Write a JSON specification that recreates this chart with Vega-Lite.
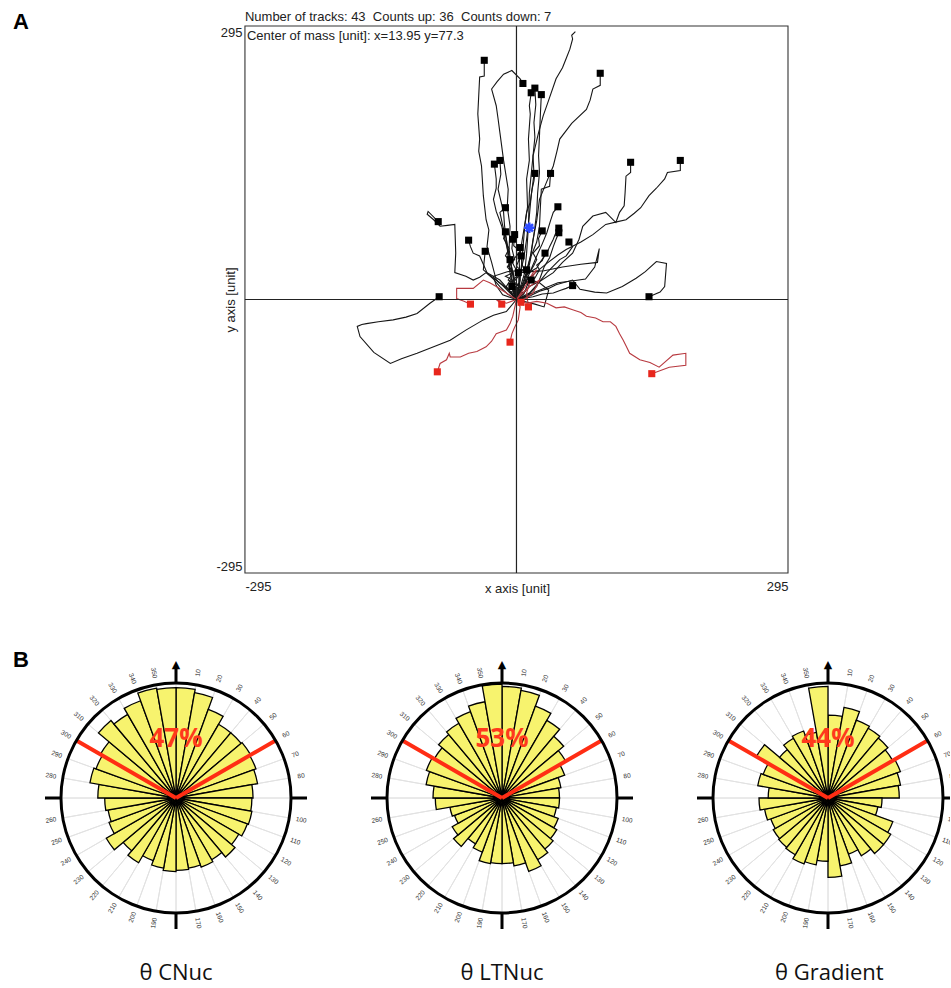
{
"$schema": "https://vega.github.io/schema/vega-lite/v6.json",
"background": "white",
"padding": {"left": 13, "top": 11, "right": 0, "bottom": 2},
"config": {"font": "Liberation Sans", "view": {"stroke": null}},
"datasets": {
"tracks": [
{"t":1,"i":0,"x":0,"y":0,"d":"up"},{"t":1,"i":1,"x":-8,"y":10,"d":"up"},{"t":1,"i":2,"x":-22,"y":21,"d":"up"},{"t":1,"i":3,"x":-27,"y":40,"d":"up"},{"t":1,"i":4,"x":-32,"y":57,"d":"up"},{"t":1,"i":5,"x":-30,"y":75,"d":"up"},{"t":1,"i":6,"x":-33,"y":86,"d":"up"},{"t":1,"i":7,"x":-36,"y":112,"d":"up"},{"t":1,"i":8,"x":-38,"y":144,"d":"up"},{"t":1,"i":9,"x":-41,"y":160,"d":"up"},{"t":1,"i":10,"x":-40,"y":173,"d":"up"},{"t":1,"i":11,"x":-42,"y":200,"d":"up"},{"t":1,"i":12,"x":-40,"y":240,"d":"up"},{"t":1,"i":13,"x":-35,"y":241,"d":"up"},{"t":1,"i":14,"x":-35,"y":258,"d":"up"},
{"t":2,"i":0,"x":0,"y":0,"d":"up"},{"t":2,"i":1,"x":-5,"y":15,"d":"up"},{"t":2,"i":2,"x":-5,"y":29,"d":"up"},{"t":2,"i":3,"x":-8,"y":55,"d":"up"},{"t":2,"i":4,"x":-7,"y":79,"d":"up"},{"t":2,"i":5,"x":-10,"y":100,"d":"up"},{"t":2,"i":6,"x":-9,"y":119,"d":"up"},{"t":2,"i":7,"x":-14,"y":150,"d":"up"},{"t":2,"i":8,"x":-18,"y":180,"d":"up"},{"t":2,"i":9,"x":-20,"y":195,"d":"up"},{"t":2,"i":10,"x":-22,"y":209,"d":"up"},{"t":2,"i":11,"x":-27,"y":227,"d":"up"},{"t":2,"i":12,"x":-21,"y":235,"d":"up"},{"t":2,"i":13,"x":-14,"y":243,"d":"up"},{"t":2,"i":14,"x":-5,"y":247,"d":"up"},{"t":2,"i":15,"x":4,"y":238,"d":"up"},{"t":2,"i":16,"x":7,"y":233,"d":"up"},
{"t":3,"i":0,"x":0,"y":0,"d":"up"},{"t":3,"i":1,"x":3,"y":15,"d":"up"},{"t":3,"i":2,"x":5,"y":32,"d":"up"},{"t":3,"i":3,"x":7,"y":55,"d":"up"},{"t":3,"i":4,"x":9,"y":79,"d":"up"},{"t":3,"i":5,"x":12,"y":100,"d":"up"},{"t":3,"i":6,"x":11,"y":130,"d":"up"},{"t":3,"i":7,"x":14,"y":150,"d":"up"},{"t":3,"i":8,"x":13,"y":173,"d":"up"},{"t":3,"i":9,"x":15,"y":200,"d":"up"},{"t":3,"i":10,"x":14,"y":209,"d":"up"},{"t":3,"i":11,"x":16,"y":223,"d":"up"},
{"t":4,"i":0,"x":0,"y":0,"d":"up"},{"t":4,"i":1,"x":4,"y":28,"d":"up"},{"t":4,"i":2,"x":8,"y":45,"d":"up"},{"t":4,"i":3,"x":11,"y":65,"d":"up"},{"t":4,"i":4,"x":14,"y":90,"d":"up"},{"t":4,"i":5,"x":16,"y":112,"d":"up"},{"t":4,"i":6,"x":19,"y":135,"d":"up"},{"t":4,"i":7,"x":18,"y":155,"d":"up"},{"t":4,"i":8,"x":20,"y":175,"d":"up"},{"t":4,"i":9,"x":19,"y":191,"d":"up"},{"t":4,"i":10,"x":21,"y":210,"d":"up"},{"t":4,"i":11,"x":20,"y":228,"d":"up"},
{"t":5,"i":0,"x":0,"y":0,"d":"up"},{"t":5,"i":1,"x":9,"y":21,"d":"up"},{"t":5,"i":2,"x":12,"y":35,"d":"up"},{"t":5,"i":3,"x":16,"y":50,"d":"up"},{"t":5,"i":4,"x":19,"y":70,"d":"up"},{"t":5,"i":5,"x":22,"y":94,"d":"up"},{"t":5,"i":6,"x":23,"y":115,"d":"up"},{"t":5,"i":7,"x":25,"y":137,"d":"up"},{"t":5,"i":8,"x":24,"y":155,"d":"up"},{"t":5,"i":9,"x":25,"y":177,"d":"up"},{"t":5,"i":10,"x":26,"y":200,"d":"up"},{"t":5,"i":11,"x":27,"y":221,"d":"up"},
{"t":6,"i":0,"x":0,"y":0,"d":"up"},{"t":6,"i":1,"x":11,"y":29,"d":"up"},{"t":6,"i":2,"x":15,"y":45,"d":"up"},{"t":6,"i":3,"x":18,"y":65,"d":"up"},{"t":6,"i":4,"x":22,"y":85,"d":"up"},{"t":6,"i":5,"x":25,"y":108,"d":"up"},{"t":6,"i":6,"x":32,"y":125,"d":"up"},{"t":6,"i":7,"x":40,"y":144,"d":"up"},{"t":6,"i":8,"x":44,"y":160,"d":"up"},{"t":6,"i":9,"x":47,"y":173,"d":"up"},{"t":6,"i":10,"x":60,"y":190,"d":"up"},{"t":6,"i":11,"x":76,"y":205,"d":"up"},{"t":6,"i":12,"x":80,"y":215,"d":"up"},{"t":6,"i":13,"x":83,"y":227,"d":"up"},{"t":6,"i":14,"x":91,"y":231,"d":"up"},{"t":6,"i":15,"x":91,"y":244,"d":"up"},
{"t":7,"i":0,"x":0,"y":0,"d":"up"},{"t":7,"i":1,"x":9,"y":29,"d":"up"},{"t":7,"i":2,"x":11,"y":50,"d":"up"},{"t":7,"i":3,"x":13,"y":79,"d":"up"},{"t":7,"i":4,"x":14,"y":115,"d":"up"},{"t":7,"i":5,"x":16,"y":135,"d":"up"},{"t":7,"i":6,"x":18,"y":155,"d":"up"},{"t":7,"i":7,"x":24,"y":180,"d":"up"},{"t":7,"i":8,"x":29,"y":198,"d":"up"},{"t":7,"i":9,"x":35,"y":215,"d":"up"},{"t":7,"i":10,"x":43,"y":238,"d":"up"},{"t":7,"i":11,"x":50,"y":250,"d":"up"},{"t":7,"i":12,"x":54,"y":260,"d":"up"},{"t":7,"i":13,"x":58,"y":270,"d":"up"},{"t":7,"i":14,"x":61,"y":281,"d":"up"},{"t":7,"i":15,"x":60,"y":285,"d":"up"},{"t":7,"i":16,"x":64,"y":289,"d":"up"},
{"t":8,"i":0,"x":0,"y":0,"d":"up"},{"t":8,"i":1,"x":14,"y":14,"d":"up"},{"t":8,"i":2,"x":26,"y":20,"d":"up"},{"t":8,"i":3,"x":40,"y":29,"d":"up"},{"t":8,"i":4,"x":50,"y":40,"d":"up"},{"t":8,"i":5,"x":61,"y":50,"d":"up"},{"t":8,"i":6,"x":68,"y":65,"d":"up"},{"t":8,"i":7,"x":72,"y":79,"d":"up"},{"t":8,"i":8,"x":83,"y":90,"d":"up"},{"t":8,"i":9,"x":97,"y":94,"d":"up"},{"t":8,"i":10,"x":108,"y":83,"d":"up"},{"t":8,"i":11,"x":112,"y":94,"d":"up"},{"t":8,"i":12,"x":117,"y":101,"d":"up"},{"t":8,"i":13,"x":118,"y":115,"d":"up"},{"t":8,"i":14,"x":119,"y":133,"d":"up"},{"t":8,"i":15,"x":124,"y":137,"d":"up"},{"t":8,"i":16,"x":124,"y":148,"d":"up"},
{"t":9,"i":0,"x":0,"y":0,"d":"up"},{"t":9,"i":1,"x":11,"y":21,"d":"up"},{"t":9,"i":2,"x":22,"y":30,"d":"up"},{"t":9,"i":3,"x":33,"y":39,"d":"up"},{"t":9,"i":4,"x":45,"y":48,"d":"up"},{"t":9,"i":5,"x":54,"y":54,"d":"up"},{"t":9,"i":6,"x":70,"y":62,"d":"up"},{"t":9,"i":7,"x":83,"y":70,"d":"up"},{"t":9,"i":8,"x":97,"y":81,"d":"up"},{"t":9,"i":9,"x":110,"y":84,"d":"up"},{"t":9,"i":10,"x":119,"y":86,"d":"up"},{"t":9,"i":11,"x":128,"y":93,"d":"up"},{"t":9,"i":12,"x":135,"y":99,"d":"up"},{"t":9,"i":13,"x":144,"y":112,"d":"up"},{"t":9,"i":14,"x":152,"y":120,"d":"up"},{"t":9,"i":15,"x":161,"y":130,"d":"up"},{"t":9,"i":16,"x":164,"y":137,"d":"up"},{"t":9,"i":17,"x":178,"y":139,"d":"up"},{"t":9,"i":18,"x":178,"y":150,"d":"up"},
{"t":10,"i":0,"x":0,"y":0,"d":"up"},{"t":10,"i":1,"x":15,"y":4,"d":"up"},{"t":10,"i":2,"x":25,"y":9,"d":"up"},{"t":10,"i":3,"x":35,"y":12,"d":"up"},{"t":10,"i":4,"x":43,"y":16,"d":"up"},{"t":10,"i":5,"x":61,"y":21,"d":"up"},{"t":10,"i":6,"x":69,"y":11,"d":"up"},{"t":10,"i":7,"x":85,"y":8,"d":"up"},{"t":10,"i":8,"x":98,"y":7,"d":"up"},{"t":10,"i":9,"x":115,"y":14,"d":"up"},{"t":10,"i":10,"x":130,"y":23,"d":"up"},{"t":10,"i":11,"x":140,"y":30,"d":"up"},{"t":10,"i":12,"x":152,"y":41,"d":"up"},{"t":10,"i":13,"x":163,"y":39,"d":"up"},{"t":10,"i":14,"x":161,"y":14,"d":"up"},{"t":10,"i":15,"x":156,"y":8,"d":"up"},{"t":10,"i":16,"x":144,"y":3,"d":"up"},
{"t":11,"i":0,"x":0,"y":0,"d":"up"},{"t":11,"i":1,"x":-11,"y":-13,"d":"up"},{"t":11,"i":2,"x":-25,"y":-17,"d":"up"},{"t":11,"i":3,"x":-36,"y":-22,"d":"up"},{"t":11,"i":4,"x":-55,"y":-33,"d":"up"},{"t":11,"i":5,"x":-72,"y":-44,"d":"up"},{"t":11,"i":6,"x":-90,"y":-51,"d":"up"},{"t":11,"i":7,"x":-108,"y":-58,"d":"up"},{"t":11,"i":8,"x":-125,"y":-64,"d":"up"},{"t":11,"i":9,"x":-137,"y":-69,"d":"up"},{"t":11,"i":10,"x":-155,"y":-57,"d":"up"},{"t":11,"i":11,"x":-170,"y":-40,"d":"up"},{"t":11,"i":12,"x":-173,"y":-29,"d":"up"},{"t":11,"i":13,"x":-168,"y":-27,"d":"up"},{"t":11,"i":14,"x":-163,"y":-26,"d":"up"},{"t":11,"i":15,"x":-150,"y":-24,"d":"up"},{"t":11,"i":16,"x":-134,"y":-22,"d":"up"},{"t":11,"i":17,"x":-120,"y":-19,"d":"up"},{"t":11,"i":18,"x":-108,"y":-15,"d":"up"},{"t":11,"i":19,"x":-94,"y":-4,"d":"up"},{"t":11,"i":20,"x":-84,"y":3,"d":"up"},
{"t":12,"i":0,"x":0,"y":0,"d":"up"},{"t":12,"i":1,"x":-10,"y":6,"d":"up"},{"t":12,"i":2,"x":-18,"y":14,"d":"up"},{"t":12,"i":3,"x":-25,"y":22,"d":"up"},{"t":12,"i":4,"x":-33,"y":29,"d":"up"},{"t":12,"i":5,"x":-40,"y":24,"d":"up"},{"t":12,"i":6,"x":-47,"y":21,"d":"up"},{"t":12,"i":7,"x":-55,"y":25,"d":"up"},{"t":12,"i":8,"x":-67,"y":29,"d":"up"},{"t":12,"i":9,"x":-66,"y":50,"d":"up"},{"t":12,"i":10,"x":-67,"y":81,"d":"up"},{"t":12,"i":11,"x":-75,"y":80,"d":"up"},{"t":12,"i":12,"x":-83,"y":79,"d":"up"},{"t":12,"i":13,"x":-90,"y":86,"d":"up"},{"t":12,"i":14,"x":-97,"y":92,"d":"up"},{"t":12,"i":15,"x":-96,"y":95,"d":"up"},{"t":12,"i":16,"x":-85,"y":84,"d":"up"},
{"t":13,"i":0,"x":0,"y":0,"d":"up"},{"t":13,"i":1,"x":-10,"y":12,"d":"up"},{"t":13,"i":2,"x":-18,"y":21,"d":"up"},{"t":13,"i":3,"x":-32,"y":29,"d":"up"},{"t":13,"i":4,"x":-36,"y":38,"d":"up"},{"t":13,"i":5,"x":-40,"y":47,"d":"up"},{"t":13,"i":6,"x":-47,"y":50,"d":"up"},{"t":13,"i":7,"x":-50,"y":57,"d":"up"},{"t":13,"i":8,"x":-52,"y":64,"d":"up"},
{"t":14,"i":0,"x":0,"y":0,"d":"up"},{"t":14,"i":1,"x":-7,"y":7,"d":"up"},{"t":14,"i":2,"x":-15,"y":15,"d":"up"},{"t":14,"i":3,"x":-22,"y":21,"d":"up"},{"t":14,"i":4,"x":-30,"y":27,"d":"up"},{"t":14,"i":5,"x":-36,"y":32,"d":"up"},{"t":14,"i":6,"x":-35,"y":42,"d":"up"},{"t":14,"i":7,"x":-34,"y":52,"d":"up"},
{"t":15,"i":0,"x":0,"y":0,"d":"up"},{"t":15,"i":1,"x":-4,"y":29,"d":"up"},{"t":15,"i":2,"x":-10,"y":55,"d":"up"},{"t":15,"i":3,"x":-16,"y":79,"d":"up"},{"t":15,"i":4,"x":-22,"y":95,"d":"up"},{"t":15,"i":5,"x":-25,"y":108,"d":"up"},{"t":15,"i":6,"x":-22,"y":120,"d":"up"},{"t":15,"i":7,"x":-22,"y":130,"d":"up"},{"t":15,"i":8,"x":-24,"y":146,"d":"up"},
{"t":16,"i":0,"x":0,"y":0,"d":"up"},{"t":16,"i":1,"x":-7,"y":29,"d":"up"},{"t":16,"i":2,"x":-9,"y":45,"d":"up"},{"t":16,"i":3,"x":-11,"y":65,"d":"up"},{"t":16,"i":4,"x":-13,"y":80,"d":"up"},{"t":16,"i":5,"x":-14,"y":94,"d":"up"},{"t":16,"i":6,"x":-20,"y":119,"d":"up"},{"t":16,"i":7,"x":-17,"y":135,"d":"up"},{"t":16,"i":8,"x":-18,"y":150,"d":"up"},
{"t":17,"i":0,"x":0,"y":0,"d":"up"},{"t":17,"i":1,"x":4,"y":21,"d":"up"},{"t":17,"i":2,"x":3,"y":40,"d":"up"},{"t":17,"i":3,"x":5,"y":57,"d":"up"},{"t":17,"i":4,"x":8,"y":75,"d":"up"},{"t":17,"i":5,"x":11,"y":94,"d":"up"},{"t":17,"i":6,"x":15,"y":105,"d":"up"},{"t":17,"i":7,"x":17,"y":119,"d":"up"},{"t":17,"i":8,"x":19,"y":128,"d":"up"},{"t":17,"i":9,"x":20,"y":136,"d":"up"},
{"t":18,"i":0,"x":0,"y":0,"d":"up"},{"t":18,"i":1,"x":7,"y":11,"d":"up"},{"t":18,"i":2,"x":12,"y":28,"d":"up"},{"t":18,"i":3,"x":16,"y":47,"d":"up"},{"t":18,"i":4,"x":22,"y":62,"d":"up"},{"t":18,"i":5,"x":25,"y":79,"d":"up"},{"t":18,"i":6,"x":26,"y":100,"d":"up"},{"t":18,"i":7,"x":27,"y":119,"d":"up"},{"t":18,"i":8,"x":36,"y":122,"d":"up"},{"t":18,"i":9,"x":37,"y":136,"d":"up"},
{"t":19,"i":0,"x":0,"y":0,"d":"up"},{"t":19,"i":1,"x":-4,"y":29,"d":"up"},{"t":19,"i":2,"x":-8,"y":48,"d":"up"},{"t":19,"i":3,"x":-11,"y":65,"d":"up"},{"t":19,"i":4,"x":-15,"y":80,"d":"up"},{"t":19,"i":5,"x":-18,"y":94,"d":"up"},{"t":19,"i":6,"x":-12,"y":99,"d":"up"},
{"t":20,"i":0,"x":0,"y":0,"d":"up"},{"t":20,"i":1,"x":11,"y":21,"d":"up"},{"t":20,"i":2,"x":17,"y":35,"d":"up"},{"t":20,"i":3,"x":22,"y":47,"d":"up"},{"t":20,"i":4,"x":28,"y":60,"d":"up"},{"t":20,"i":5,"x":33,"y":72,"d":"up"},{"t":20,"i":6,"x":37,"y":85,"d":"up"},{"t":20,"i":7,"x":40,"y":94,"d":"up"},{"t":20,"i":8,"x":45,"y":100,"d":"up"},
{"t":21,"i":0,"x":0,"y":0,"d":"up"},{"t":21,"i":1,"x":14,"y":7,"d":"up"},{"t":21,"i":2,"x":24,"y":18,"d":"up"},{"t":21,"i":3,"x":33,"y":29,"d":"up"},{"t":21,"i":4,"x":40,"y":36,"d":"up"},{"t":21,"i":5,"x":47,"y":43,"d":"up"},{"t":21,"i":6,"x":54,"y":47,"d":"up"},{"t":21,"i":7,"x":61,"y":57,"d":"up"},{"t":21,"i":8,"x":57,"y":62,"d":"up"},
{"t":22,"i":0,"x":0,"y":0,"d":"up"},{"t":22,"i":1,"x":18,"y":3,"d":"up"},{"t":22,"i":2,"x":28,"y":6,"d":"up"},{"t":22,"i":3,"x":40,"y":7,"d":"up"},{"t":22,"i":4,"x":48,"y":10,"d":"up"},{"t":22,"i":5,"x":54,"y":12,"d":"up"},{"t":22,"i":6,"x":61,"y":15,"d":"up"},
{"t":23,"i":0,"x":0,"y":0,"d":"up"},{"t":23,"i":1,"x":-6,"y":8,"d":"up"},{"t":23,"i":2,"x":3,"y":14,"d":"up"},{"t":23,"i":3,"x":-9,"y":21,"d":"up"},{"t":23,"i":4,"x":-4,"y":28,"d":"up"},{"t":23,"i":5,"x":-10,"y":35,"d":"up"},{"t":23,"i":6,"x":-6,"y":41,"d":"up"},{"t":23,"i":7,"x":-12,"y":47,"d":"up"},{"t":23,"i":8,"x":-8,"y":55,"d":"up"},{"t":23,"i":9,"x":-14,"y":66,"d":"up"},{"t":23,"i":10,"x":-12,"y":73,"d":"up"},
{"t":24,"i":0,"x":0,"y":0,"d":"up"},{"t":24,"i":1,"x":5,"y":9,"d":"up"},{"t":24,"i":2,"x":-4,"y":15,"d":"up"},{"t":24,"i":3,"x":-4,"y":21,"d":"up"},{"t":24,"i":4,"x":3,"y":27,"d":"up"},{"t":24,"i":5,"x":-2,"y":35,"d":"up"},{"t":24,"i":6,"x":-5,"y":41,"d":"up"},{"t":24,"i":7,"x":0,"y":47,"d":"up"},{"t":24,"i":8,"x":4,"y":52,"d":"up"},{"t":24,"i":9,"x":-3,"y":58,"d":"up"},{"t":24,"i":10,"x":-2,"y":70,"d":"up"},
{"t":25,"i":0,"x":0,"y":0,"d":"up"},{"t":25,"i":1,"x":-4,"y":8,"d":"up"},{"t":25,"i":2,"x":11,"y":18,"d":"up"},{"t":25,"i":3,"x":8,"y":24,"d":"up"},{"t":25,"i":4,"x":15,"y":30,"d":"up"},{"t":25,"i":5,"x":19,"y":37,"d":"up"},{"t":25,"i":6,"x":22,"y":43,"d":"up"},{"t":25,"i":7,"x":18,"y":50,"d":"up"},{"t":25,"i":8,"x":25,"y":58,"d":"up"},{"t":25,"i":9,"x":24,"y":66,"d":"up"},{"t":25,"i":10,"x":28,"y":74,"d":"up"},
{"t":26,"i":0,"x":0,"y":0,"d":"up"},{"t":26,"i":1,"x":8,"y":6,"d":"up"},{"t":26,"i":2,"x":14,"y":21,"d":"up"},{"t":26,"i":3,"x":10,"y":27,"d":"up"},{"t":26,"i":4,"x":22,"y":34,"d":"up"},{"t":26,"i":5,"x":27,"y":42,"d":"up"},{"t":26,"i":6,"x":33,"y":50,"d":"up"},{"t":26,"i":7,"x":36,"y":57,"d":"up"},{"t":26,"i":8,"x":40,"y":65,"d":"up"},{"t":26,"i":9,"x":42,"y":70,"d":"up"},{"t":26,"i":10,"x":46,"y":77,"d":"up"},
{"t":27,"i":0,"x":0,"y":0,"d":"up"},{"t":27,"i":1,"x":12,"y":4,"d":"up"},{"t":27,"i":2,"x":22,"y":14,"d":"up"},{"t":27,"i":3,"x":26,"y":24,"d":"up"},{"t":27,"i":4,"x":30,"y":35,"d":"up"},{"t":27,"i":5,"x":36,"y":45,"d":"up"},{"t":27,"i":6,"x":40,"y":57,"d":"up"},{"t":27,"i":7,"x":43,"y":65,"d":"up"},{"t":27,"i":8,"x":46,"y":72,"d":"up"},
{"t":28,"i":0,"x":0,"y":0,"d":"up"},{"t":28,"i":1,"x":-7,"y":18,"d":"up"},{"t":28,"i":2,"x":-2,"y":22,"d":"up"},{"t":28,"i":3,"x":-4,"y":30,"d":"up"},{"t":28,"i":4,"x":-9,"y":36,"d":"up"},{"t":28,"i":5,"x":-2,"y":43,"d":"up"},{"t":28,"i":6,"x":-5,"y":55,"d":"up"},{"t":28,"i":7,"x":-4,"y":65,"d":"up"},
{"t":29,"i":0,"x":0,"y":0,"d":"up"},{"t":29,"i":1,"x":5,"y":14,"d":"up"},{"t":29,"i":2,"x":-3,"y":19,"d":"up"},{"t":29,"i":3,"x":2,"y":25,"d":"up"},{"t":29,"i":4,"x":6,"y":30,"d":"up"},{"t":29,"i":5,"x":0,"y":36,"d":"up"},{"t":29,"i":6,"x":4,"y":46,"d":"up"},{"t":29,"i":7,"x":4,"y":56,"d":"up"},
{"t":30,"i":0,"x":0,"y":0,"d":"up"},{"t":30,"i":1,"x":6,"y":5,"d":"up"},{"t":30,"i":2,"x":14,"y":14,"d":"up"},{"t":30,"i":3,"x":10,"y":19,"d":"up"},{"t":30,"i":4,"x":20,"y":23,"d":"up"},{"t":30,"i":5,"x":25,"y":32,"d":"up"},{"t":30,"i":6,"x":22,"y":37,"d":"up"},{"t":30,"i":7,"x":28,"y":42,"d":"up"},{"t":30,"i":8,"x":31,"y":50,"d":"up"},
{"t":31,"i":0,"x":0,"y":0,"d":"up"},{"t":31,"i":1,"x":-5,"y":6,"d":"up"},{"t":31,"i":2,"x":-11,"y":14,"d":"up"},{"t":31,"i":3,"x":-6,"y":22,"d":"up"},{"t":31,"i":4,"x":-12,"y":25,"d":"up"},{"t":31,"i":5,"x":-4,"y":29,"d":"up"},{"t":31,"i":6,"x":-8,"y":36,"d":"up"},{"t":31,"i":7,"x":-7,"y":43,"d":"up"},
{"t":32,"i":0,"x":0,"y":0,"d":"up"},{"t":32,"i":1,"x":7,"y":7,"d":"up"},{"t":32,"i":2,"x":-3,"y":12,"d":"up"},{"t":32,"i":3,"x":3,"y":18,"d":"up"},{"t":32,"i":4,"x":2,"y":29,"d":"up"},{"t":32,"i":5,"x":8,"y":33,"d":"up"},{"t":32,"i":6,"x":6,"y":38,"d":"up"},{"t":32,"i":7,"x":5,"y":47,"d":"up"},
{"t":33,"i":0,"x":0,"y":0,"d":"up"},{"t":33,"i":1,"x":25,"y":10,"d":"up"},{"t":33,"i":2,"x":45,"y":18,"d":"up"},{"t":33,"i":3,"x":60,"y":20,"d":"up"},{"t":33,"i":4,"x":75,"y":22,"d":"up"},{"t":33,"i":5,"x":85,"y":35,"d":"up"},{"t":33,"i":6,"x":90,"y":55,"d":"up"},{"t":33,"i":7,"x":88,"y":40,"d":"up"},{"t":33,"i":8,"x":70,"y":38,"d":"up"},{"t":33,"i":9,"x":50,"y":35,"d":"up"},{"t":33,"i":10,"x":30,"y":31,"d":"up"},{"t":33,"i":11,"x":2,"y":29,"d":"up"},
{"t":34,"i":0,"x":0,"y":0,"d":"up"},{"t":34,"i":1,"x":-15,"y":5,"d":"up"},{"t":34,"i":2,"x":-22,"y":15,"d":"up"},{"t":34,"i":3,"x":-25,"y":25,"d":"up"},{"t":34,"i":4,"x":-10,"y":30,"d":"up"},{"t":34,"i":5,"x":11,"y":32,"d":"up"},
{"t":35,"i":0,"x":0,"y":0,"d":"up"},{"t":35,"i":1,"x":8,"y":-6,"d":"up"},{"t":35,"i":2,"x":3,"y":2,"d":"up"},{"t":35,"i":3,"x":-2,"y":6,"d":"up"},{"t":35,"i":4,"x":-5,"y":14,"d":"up"},
{"t":36,"i":0,"x":0,"y":0,"d":"up"},{"t":36,"i":1,"x":20,"y":-5,"d":"up"},{"t":36,"i":2,"x":30,"y":-8,"d":"up"},{"t":36,"i":3,"x":35,"y":10,"d":"up"},{"t":36,"i":4,"x":25,"y":18,"d":"up"},{"t":36,"i":5,"x":16,"y":21,"d":"up"},
{"t":37,"i":0,"x":0,"y":0,"d":"down"},{"t":37,"i":1,"x":11,"y":-4,"d":"down"},{"t":37,"i":2,"x":22,"y":-2,"d":"down"},{"t":37,"i":3,"x":33,"y":-4,"d":"down"},{"t":37,"i":4,"x":43,"y":-9,"d":"down"},{"t":37,"i":5,"x":52,"y":-8,"d":"down"},{"t":37,"i":6,"x":61,"y":-11,"d":"down"},{"t":37,"i":7,"x":70,"y":-14,"d":"down"},{"t":37,"i":8,"x":76,"y":-18,"d":"down"},{"t":37,"i":9,"x":86,"y":-20,"d":"down"},{"t":37,"i":10,"x":94,"y":-24,"d":"down"},{"t":37,"i":11,"x":102,"y":-24,"d":"down"},{"t":37,"i":12,"x":108,"y":-29,"d":"down"},{"t":37,"i":13,"x":112,"y":-37,"d":"down"},{"t":37,"i":14,"x":116,"y":-44,"d":"down"},{"t":37,"i":15,"x":119,"y":-50,"d":"down"},{"t":37,"i":16,"x":123,"y":-58,"d":"down"},{"t":37,"i":17,"x":134,"y":-65,"d":"down"},{"t":37,"i":18,"x":145,"y":-68,"d":"down"},{"t":37,"i":19,"x":155,"y":-73,"d":"down"},{"t":37,"i":20,"x":170,"y":-60,"d":"down"},{"t":37,"i":21,"x":184,"y":-58,"d":"down"},{"t":37,"i":22,"x":184,"y":-71,"d":"down"},{"t":37,"i":23,"x":166,"y":-73,"d":"down"},{"t":37,"i":24,"x":147,"y":-80,"d":"down"},
{"t":38,"i":0,"x":0,"y":0,"d":"down"},{"t":38,"i":1,"x":-4,"y":-18,"d":"down"},{"t":38,"i":2,"x":-7,"y":-26,"d":"down"},{"t":38,"i":3,"x":-11,"y":-33,"d":"down"},{"t":38,"i":4,"x":-22,"y":-37,"d":"down"},{"t":38,"i":5,"x":-27,"y":-45,"d":"down"},{"t":38,"i":6,"x":-33,"y":-51,"d":"down"},{"t":38,"i":7,"x":-43,"y":-56,"d":"down"},{"t":38,"i":8,"x":-52,"y":-58,"d":"down"},{"t":38,"i":9,"x":-61,"y":-62,"d":"down"},{"t":38,"i":10,"x":-72,"y":-62,"d":"down"},{"t":38,"i":11,"x":-73,"y":-58,"d":"down"},{"t":38,"i":12,"x":-76,"y":-65,"d":"down"},{"t":38,"i":13,"x":-83,"y":-69,"d":"down"},{"t":38,"i":14,"x":-86,"y":-78,"d":"down"},
{"t":39,"i":0,"x":0,"y":0,"d":"down"},{"t":39,"i":1,"x":4,"y":-8,"d":"down"},{"t":39,"i":2,"x":2,"y":-22,"d":"down"},{"t":39,"i":3,"x":-2,"y":-30,"d":"down"},{"t":39,"i":4,"x":-5,"y":-37,"d":"down"},{"t":39,"i":5,"x":-7,"y":-46,"d":"down"},
{"t":40,"i":0,"x":0,"y":0,"d":"down"},{"t":40,"i":1,"x":-11,"y":7,"d":"down"},{"t":40,"i":2,"x":-22,"y":14,"d":"down"},{"t":40,"i":3,"x":-29,"y":18,"d":"down"},{"t":40,"i":4,"x":-36,"y":21,"d":"down"},{"t":40,"i":5,"x":-47,"y":12,"d":"down"},{"t":40,"i":6,"x":-56,"y":12,"d":"down"},{"t":40,"i":7,"x":-65,"y":12,"d":"down"},{"t":40,"i":8,"x":-65,"y":1,"d":"down"},{"t":40,"i":9,"x":-57,"y":-2,"d":"down"},{"t":40,"i":10,"x":-50,"y":-5,"d":"down"},
{"t":41,"i":0,"x":0,"y":0,"d":"down"},{"t":41,"i":1,"x":-11,"y":-4,"d":"down"},{"t":41,"i":2,"x":-22,"y":0,"d":"down"},{"t":41,"i":3,"x":-16,"y":-5,"d":"down"},
{"t":42,"i":0,"x":0,"y":0,"d":"down"},{"t":42,"i":1,"x":10,"y":15,"d":"down"},{"t":42,"i":2,"x":18,"y":29,"d":"down"},{"t":42,"i":3,"x":22,"y":32,"d":"down"},{"t":42,"i":4,"x":15,"y":20,"d":"down"},{"t":42,"i":5,"x":11,"y":7,"d":"down"},{"t":42,"i":6,"x":13,"y":-8,"d":"down"},
{"t":43,"i":0,"x":0,"y":0,"d":"down"},{"t":43,"i":1,"x":14,"y":14,"d":"down"},{"t":43,"i":2,"x":25,"y":21,"d":"down"},{"t":43,"i":3,"x":18,"y":7,"d":"down"},{"t":43,"i":4,"x":5,"y":-3,"d":"down"}
],
"ends": [
{"x":-35,"y":258,"d":"up"},{"x":7,"y":233,"d":"up"},{"x":16,"y":223,"d":"up"},{"x":20,"y":228,"d":"up"},{"x":27,"y":221,"d":"up"},{"x":91,"y":244,"d":"up"},{"x":124,"y":148,"d":"up"},{"x":178,"y":150,"d":"up"},{"x":144,"y":3,"d":"up"},{"x":-84,"y":3,"d":"up"},{"x":-85,"y":84,"d":"up"},{"x":-52,"y":64,"d":"up"},{"x":-34,"y":52,"d":"up"},{"x":-24,"y":146,"d":"up"},{"x":-18,"y":150,"d":"up"},{"x":20,"y":136,"d":"up"},{"x":37,"y":136,"d":"up"},{"x":-12,"y":99,"d":"up"},{"x":45,"y":100,"d":"up"},{"x":57,"y":62,"d":"up"},{"x":61,"y":15,"d":"up"},{"x":-12,"y":73,"d":"up"},{"x":-2,"y":70,"d":"up"},{"x":28,"y":74,"d":"up"},{"x":46,"y":77,"d":"up"},{"x":46,"y":72,"d":"up"},{"x":-4,"y":65,"d":"up"},{"x":4,"y":56,"d":"up"},{"x":31,"y":50,"d":"up"},{"x":-7,"y":43,"d":"up"},{"x":5,"y":47,"d":"up"},{"x":2,"y":29,"d":"up"},{"x":11,"y":32,"d":"up"},{"x":-5,"y":14,"d":"up"},{"x":16,"y":21,"d":"up"},
{"x":147,"y":-80,"d":"down"},{"x":-86,"y":-78,"d":"down"},{"x":-7,"y":-46,"d":"down"},{"x":-50,"y":-5,"d":"down"},{"x":-16,"y":-5,"d":"down"},{"x":13,"y":-8,"d":"down"},{"x":5,"y":-3,"d":"down"}
],
"com": [{"x":13.95,"y":77.3}],
"zero": [{"v":0}],
"panels": [{"k":"A"},{"k":"B"}],
"notes": [{"k":"top","txt":"Number of tracks: 43\u00a0 Counts up: 36\u00a0 Counts down: 7"},{"k":"com","txt":"Center of mass [unit]: x=13.95 y=77.3"}],
"roses": [
{"p":"CNuc","s":0,"e":10,"r":0.96},{"p":"CNuc","s":10,"e":20,"r":0.93},{"p":"CNuc","s":20,"e":30,"r":0.82},{"p":"CNuc","s":30,"e":40,"r":0.74},{"p":"CNuc","s":40,"e":50,"r":0.74},{"p":"CNuc","s":50,"e":60,"r":0.75},{"p":"CNuc","s":60,"e":70,"r":0.74},{"p":"CNuc","s":70,"e":80,"r":0.72},{"p":"CNuc","s":80,"e":90,"r":0.67},{"p":"CNuc","s":90,"e":100,"r":0.66},{"p":"CNuc","s":100,"e":110,"r":0.67},{"p":"CNuc","s":110,"e":120,"r":0.66},{"p":"CNuc","s":120,"e":130,"r":0.63},{"p":"CNuc","s":130,"e":140,"r":0.67},{"p":"CNuc","s":140,"e":150,"r":0.62},{"p":"CNuc","s":150,"e":160,"r":0.64},{"p":"CNuc","s":160,"e":170,"r":0.62},{"p":"CNuc","s":170,"e":180,"r":0.63},{"p":"CNuc","s":180,"e":190,"r":0.64},{"p":"CNuc","s":190,"e":200,"r":0.62},{"p":"CNuc","s":200,"e":210,"r":0.58},{"p":"CNuc","s":210,"e":220,"r":0.65},{"p":"CNuc","s":220,"e":230,"r":0.60},{"p":"CNuc","s":230,"e":240,"r":0.70},{"p":"CNuc","s":240,"e":250,"r":0.62},{"p":"CNuc","s":250,"e":260,"r":0.60},{"p":"CNuc","s":260,"e":270,"r":0.62},{"p":"CNuc","s":270,"e":280,"r":0.68},{"p":"CNuc","s":280,"e":290,"r":0.76},{"p":"CNuc","s":290,"e":300,"r":0.74},{"p":"CNuc","s":300,"e":310,"r":0.76},{"p":"CNuc","s":310,"e":320,"r":0.88},{"p":"CNuc","s":320,"e":330,"r":0.84},{"p":"CNuc","s":330,"e":340,"r":0.90},{"p":"CNuc","s":340,"e":350,"r":0.97},{"p":"CNuc","s":350,"e":360,"r":0.96},
{"p":"LTNuc","s":0,"e":10,"r":0.97},{"p":"LTNuc","s":10,"e":20,"r":0.95},{"p":"LTNuc","s":20,"e":30,"r":0.85},{"p":"LTNuc","s":30,"e":40,"r":0.78},{"p":"LTNuc","s":40,"e":50,"r":0.70},{"p":"LTNuc","s":50,"e":60,"r":0.64},{"p":"LTNuc","s":60,"e":70,"r":0.58},{"p":"LTNuc","s":70,"e":80,"r":0.52},{"p":"LTNuc","s":80,"e":90,"r":0.50},{"p":"LTNuc","s":90,"e":100,"r":0.50},{"p":"LTNuc","s":100,"e":110,"r":0.48},{"p":"LTNuc","s":110,"e":120,"r":0.52},{"p":"LTNuc","s":120,"e":130,"r":0.55},{"p":"LTNuc","s":130,"e":140,"r":0.58},{"p":"LTNuc","s":140,"e":150,"r":0.62},{"p":"LTNuc","s":150,"e":160,"r":0.68},{"p":"LTNuc","s":160,"e":170,"r":0.60},{"p":"LTNuc","s":170,"e":180,"r":0.57},{"p":"LTNuc","s":180,"e":190,"r":0.57},{"p":"LTNuc","s":190,"e":200,"r":0.58},{"p":"LTNuc","s":200,"e":210,"r":0.50},{"p":"LTNuc","s":210,"e":220,"r":0.46},{"p":"LTNuc","s":220,"e":230,"r":0.55},{"p":"LTNuc","s":230,"e":240,"r":0.50},{"p":"LTNuc","s":240,"e":250,"r":0.44},{"p":"LTNuc","s":250,"e":260,"r":0.46},{"p":"LTNuc","s":260,"e":270,"r":0.58},{"p":"LTNuc","s":270,"e":280,"r":0.60},{"p":"LTNuc","s":280,"e":290,"r":0.67},{"p":"LTNuc","s":290,"e":300,"r":0.70},{"p":"LTNuc","s":300,"e":310,"r":0.68},{"p":"LTNuc","s":310,"e":320,"r":0.72},{"p":"LTNuc","s":320,"e":330,"r":0.75},{"p":"LTNuc","s":330,"e":340,"r":0.80},{"p":"LTNuc","s":340,"e":350,"r":0.85},{"p":"LTNuc","s":350,"e":360,"r":0.99},
{"p":"Gradient","s":0,"e":10,"r":0.72},{"p":"Gradient","s":10,"e":20,"r":0.80},{"p":"Gradient","s":20,"e":30,"r":0.72},{"p":"Gradient","s":30,"e":40,"r":0.70},{"p":"Gradient","s":40,"e":50,"r":0.68},{"p":"Gradient","s":50,"e":60,"r":0.65},{"p":"Gradient","s":60,"e":70,"r":0.67},{"p":"Gradient","s":70,"e":80,"r":0.64},{"p":"Gradient","s":80,"e":90,"r":0.62},{"p":"Gradient","s":90,"e":100,"r":0.47},{"p":"Gradient","s":100,"e":110,"r":0.44},{"p":"Gradient","s":110,"e":120,"r":0.60},{"p":"Gradient","s":120,"e":130,"r":0.63},{"p":"Gradient","s":130,"e":140,"r":0.63},{"p":"Gradient","s":140,"e":150,"r":0.58},{"p":"Gradient","s":150,"e":160,"r":0.52},{"p":"Gradient","s":160,"e":170,"r":0.60},{"p":"Gradient","s":170,"e":180,"r":0.69},{"p":"Gradient","s":180,"e":190,"r":0.55},{"p":"Gradient","s":190,"e":200,"r":0.59},{"p":"Gradient","s":200,"e":210,"r":0.61},{"p":"Gradient","s":210,"e":220,"r":0.57},{"p":"Gradient","s":220,"e":230,"r":0.56},{"p":"Gradient","s":230,"e":240,"r":0.55},{"p":"Gradient","s":240,"e":250,"r":0.53},{"p":"Gradient","s":250,"e":260,"r":0.56},{"p":"Gradient","s":260,"e":270,"r":0.60},{"p":"Gradient","s":270,"e":280,"r":0.52},{"p":"Gradient","s":280,"e":290,"r":0.62},{"p":"Gradient","s":290,"e":300,"r":0.60},{"p":"Gradient","s":300,"e":310,"r":0.72},{"p":"Gradient","s":310,"e":320,"r":0.55},{"p":"Gradient","s":320,"e":330,"r":0.60},{"p":"Gradient","s":330,"e":340,"r":0.62},{"p":"Gradient","s":340,"e":350,"r":0.58},{"p":"Gradient","s":350,"e":360,"r":0.97}
],
"redlines": [{"deg":300},{"deg":60}],
"ring": [{"a":0,"b":360}],
"cross": [{"deg":0},{"deg":90},{"deg":180},{"deg":270}],
"arrow": [{"deg":0,"sym":"▲"}],
"deglabels": [{"deg":10},{"deg":20},{"deg":30},{"deg":40},{"deg":50},{"deg":60},{"deg":70},{"deg":80},{"deg":100},{"deg":110},{"deg":120},{"deg":130},{"deg":140},{"deg":150},{"deg":160},{"deg":170},{"deg":190},{"deg":200},{"deg":210},{"deg":220},{"deg":230},{"deg":240},{"deg":250},{"deg":260},{"deg":280},{"deg":290},{"deg":300},{"deg":310},{"deg":320},{"deg":330},{"deg":340},{"deg":350}],
"pct": [{"p":"CNuc","v":"47%"},{"p":"LTNuc","v":"53%"},{"p":"Gradient","v":"44%"}]
},
"spacing": 54,
"vconcat": [
{
"width": 775, "height": 547,
"resolve": {"scale": {"color": "independent"}},
"layer": [
{"data": {"name": "tracks"},
 "mark": {"type": "line", "strokeWidth": 1.1, "clip": true},
 "encoding": {
  "x": {"field": "x", "type": "quantitative", "scale": {"domain": [-547, 295], "nice": false, "zero": false},
        "axis": {"values": [-295, 295], "ticks": false, "domain": false, "grid": false, "labelExpr": "toString(datum.value)", "labelAlign": {"condition": {"test": "datum.value < 0", "value": "left"}, "value": "right"}, "labelFontSize": 13, "labelColor": "#222", "labelPadding": 7, "title": "x axis [unit]", "titleFontSize": 13, "titleFontWeight": "normal", "titleColor": "#222", "titleX": 504, "titleAlign": "center", "titleY": 9, "titleBaseline": "top"}},
  "y": {"field": "y", "type": "quantitative", "scale": {"domain": [-295, 295], "nice": false, "zero": false},
        "axis": {"values": [-295, 295], "labelFlush": true, "ticks": false, "domain": false, "grid": false, "offset": -232, "labelExpr": "toString(datum.value)", "labelFontSize": 13, "labelColor": "#222", "labelPadding": 3, "title": "y axis  [unit]", "titleFontSize": 13, "titleFontWeight": "normal", "titleColor": "#222", "titleX": -8}},
  "detail": {"field": "t"},
  "order": {"field": "i", "type": "quantitative"},
  "color": {"field": "d", "type": "nominal", "scale": {"domain": ["up", "down"], "range": ["#161616", "#b83a40"]}, "legend": null}
 }},
{"data": {"name": "zero"}, "mark": {"type": "rect", "filled": false, "stroke": "#333", "strokeWidth": 1.1},
 "encoding": {"x": {"datum": -295, "type": "quantitative"}, "x2": {"datum": 295}, "y": {"datum": -295, "type": "quantitative"}, "y2": {"datum": 295}}},
{"data": {"name": "zero"}, "mark": {"type": "rule", "color": "#222", "strokeWidth": 1.2},
 "encoding": {"y": {"field": "v", "type": "quantitative"}, "x": {"datum": -295, "type": "quantitative"}, "x2": {"datum": 295}}},
{"data": {"name": "zero"}, "mark": {"type": "rule", "color": "#222", "strokeWidth": 1.2},
 "encoding": {"x": {"field": "v", "type": "quantitative"}, "y": {"datum": -295, "type": "quantitative"}, "y2": {"datum": 295}}},
{"data": {"name": "ends"},
 "mark": {"type": "point", "shape": "square", "filled": true, "size": 50, "opacity": 1},
 "encoding": {
  "x": {"field": "x", "type": "quantitative"},
  "y": {"field": "y", "type": "quantitative"},
  "color": {"field": "d", "type": "nominal", "scale": {"domain": ["up", "down"], "range": ["#000000", "#e8261c"]}, "legend": null}
 }},
{"data": {"name": "com"},
 "mark": {"type": "point", "shape": "M-1,0L1,0M0,-1L0,1M-0.7,-0.7L0.7,0.7M-0.7,0.7L0.7,-0.7", "filled": false, "stroke": "#2f4dff", "strokeWidth": 2.5, "size": 110, "opacity": 1},
 "encoding": {"x": {"field": "x", "type": "quantitative"}, "y": {"field": "y", "type": "quantitative"}}},
{"data": {"name": "notes"}, "transform": [{"filter": "datum.k === 'top'"}],
 "mark": {"type": "text", "align": "left", "baseline": "alphabetic", "dy": -5, "fontSize": 13, "color": "#222", "font": "Liberation Sans"},
 "encoding": {"x": {"datum": -295, "type": "quantitative"}, "y": {"datum": 295, "type": "quantitative"}, "text": {"field": "txt"}}},
{"data": {"name": "notes"}, "transform": [{"filter": "datum.k === 'com'"}],
 "mark": {"type": "text", "align": "left", "baseline": "top", "dx": 2, "dy": 4, "fontSize": 13, "color": "#222", "font": "Liberation Sans"},
 "encoding": {"x": {"datum": -295, "type": "quantitative"}, "y": {"datum": 295, "type": "quantitative"}, "text": {"field": "txt"}}},
{"data": {"name": "panels"}, "transform": [{"filter": "datum.k === 'A'"}],
 "mark": {"type": "text", "align": "left", "baseline": "alphabetic", "dy": 3, "fontSize": 22, "fontWeight": "bold", "color": "#000", "font": "Liberation Sans"},
 "encoding": {"x": {"datum": -547, "type": "quantitative"}, "y": {"datum": 295, "type": "quantitative"}, "text": {"field": "k"}}}
]
},
{
"spacing": 0,
"hconcat": [
{
"width": 326, "height": 290,
"view": {"fill": "white", "stroke": null},
"title": {"text": "θ CNuc", "orient": "bottom", "offset": 37, "baseline": "alphabetic", "font": "Open Sans", "fontSize": 22, "fontWeight": "normal", "color": "#111"},
"encoding": {
 "x": {"datum": 0, "type": "quantitative", "scale": {"domain": [-163, 163], "nice": false, "zero": false}, "axis": null},
 "y": {"datum": 0, "type": "quantitative", "scale": {"domain": [-145, 145], "nice": false, "zero": false}, "axis": null}
},
"layer": [
{"data": {"name": "roses"}, "transform": [{"filter": "datum.p === 'CNuc'"}],
 "mark": {"type": "arc", "filled": false, "stroke": "#e2e2e2", "strokeWidth": 1, "innerRadius": 0, "outerRadius": 114},
 "encoding": {"theta": {"field": "s", "type": "quantitative", "stack": null, "scale": {"type": "linear", "domain": [0, 360], "range": [0, 6.283185307179586]}}, "theta2": {"field": "s"}}},
{"data": {"name": "roses"}, "transform": [{"filter": "datum.p === 'CNuc'"}],
 "mark": {"type": "arc", "fill": "#f7f36e", "stroke": "#000", "strokeWidth": 1.3},
 "encoding": {"theta": {"field": "s", "type": "quantitative", "stack": null}, "theta2": {"field": "e"},
  "radius": {"field": "r", "type": "quantitative", "scale": {"type": "linear", "domain": [0, 1], "range": [0, 115], "zero": true}}}},
{"data": {"name": "redlines"},
 "mark": {"type": "arc", "filled": false, "stroke": "#ff2d14", "strokeWidth": 4, "strokeJoin": "bevel", "innerRadius": 0, "outerRadius": 116},
 "encoding": {"theta": {"field": "deg", "type": "quantitative", "stack": null}, "theta2": {"field": "deg"}}},
{"data": {"name": "ring"},
 "mark": {"type": "arc", "fill": "#000", "innerRadius": 113.5, "outerRadius": 116.5},
 "encoding": {"theta": {"field": "a", "type": "quantitative", "stack": null}, "theta2": {"field": "b"}}},
{"data": {"name": "cross"},
 "mark": {"type": "arc", "filled": false, "stroke": "#000", "strokeWidth": 3, "strokeJoin": "bevel", "innerRadius": 114, "outerRadius": 131},
 "encoding": {"theta": {"field": "deg", "type": "quantitative", "stack": null}, "theta2": {"field": "deg"}}},
{"data": {"name": "arrow"},
 "mark": {"type": "text", "fontSize": 11, "font": "DejaVu Sans", "color": "#000", "baseline": "middle", "align": "center"},
 "encoding": {"theta": {"field": "deg", "type": "quantitative", "stack": null}, "radius": {"value": 133}, "text": {"field": "sym"}}},
{"data": {"name": "deglabels"},
 "mark": {"type": "text", "fontSize": 6.5, "font": "Liberation Sans", "color": "#333", "baseline": "middle", "align": "center"},
 "encoding": {"theta": {"field": "deg", "type": "quantitative", "stack": null}, "radius": {"value": 127}, "text": {"field": "deg", "type": "quantitative"},
  "angle": {"field": "deg", "type": "quantitative", "scale": {"type": "linear", "domain": [0, 180, 181, 360], "range": [-90, 90, -89, 90]}, "legend": null}}},
{"data": {"name": "pct"}, "transform": [{"filter": "datum.p === 'CNuc'"}],
 "mark": {"type": "text", "fontSize": 26, "fontWeight": "bold", "font": "Open Sans", "color": "#ff3a1c", "baseline": "middle", "align": "center"},
 "encoding": {"theta": {"value": 0}, "radius": {"value": 59}, "text": {"field": "v"}}},
{"data": {"name": "panels"}, "transform": [{"filter": "datum.k === 'B'"}],
 "mark": {"type": "text", "align": "left", "baseline": "alphabetic", "dy": 14, "fontSize": 22, "fontWeight": "bold", "color": "#000", "font": "Liberation Sans"},
 "encoding": {"x": {"datum": -163, "type": "quantitative"}, "y": {"datum": 145, "type": "quantitative"}, "text": {"field": "k"}}}
]
},
{
"width": 326, "height": 290,
"view": {"fill": "white", "stroke": null},
"title": {"text": "θ LTNuc", "orient": "bottom", "offset": 37, "baseline": "alphabetic", "font": "Open Sans", "fontSize": 22, "fontWeight": "normal", "color": "#111"},
"encoding": {
 "x": {"datum": 0, "type": "quantitative", "scale": {"domain": [-163, 163], "nice": false, "zero": false}, "axis": null},
 "y": {"datum": 0, "type": "quantitative", "scale": {"domain": [-145, 145], "nice": false, "zero": false}, "axis": null}
},
"layer": [
{"data": {"name": "roses"}, "transform": [{"filter": "datum.p === 'LTNuc'"}],
 "mark": {"type": "arc", "filled": false, "stroke": "#e2e2e2", "strokeWidth": 1, "innerRadius": 0, "outerRadius": 114},
 "encoding": {"theta": {"field": "s", "type": "quantitative", "stack": null, "scale": {"type": "linear", "domain": [0, 360], "range": [0, 6.283185307179586]}}, "theta2": {"field": "s"}}},
{"data": {"name": "roses"}, "transform": [{"filter": "datum.p === 'LTNuc'"}],
 "mark": {"type": "arc", "fill": "#f7f36e", "stroke": "#000", "strokeWidth": 1.3},
 "encoding": {"theta": {"field": "s", "type": "quantitative", "stack": null}, "theta2": {"field": "e"},
  "radius": {"field": "r", "type": "quantitative", "scale": {"type": "linear", "domain": [0, 1], "range": [0, 115], "zero": true}}}},
{"data": {"name": "redlines"},
 "mark": {"type": "arc", "filled": false, "stroke": "#ff2d14", "strokeWidth": 4, "strokeJoin": "bevel", "innerRadius": 0, "outerRadius": 116},
 "encoding": {"theta": {"field": "deg", "type": "quantitative", "stack": null}, "theta2": {"field": "deg"}}},
{"data": {"name": "ring"},
 "mark": {"type": "arc", "fill": "#000", "innerRadius": 113.5, "outerRadius": 116.5},
 "encoding": {"theta": {"field": "a", "type": "quantitative", "stack": null}, "theta2": {"field": "b"}}},
{"data": {"name": "cross"},
 "mark": {"type": "arc", "filled": false, "stroke": "#000", "strokeWidth": 3, "strokeJoin": "bevel", "innerRadius": 114, "outerRadius": 131},
 "encoding": {"theta": {"field": "deg", "type": "quantitative", "stack": null}, "theta2": {"field": "deg"}}},
{"data": {"name": "arrow"},
 "mark": {"type": "text", "fontSize": 11, "font": "DejaVu Sans", "color": "#000", "baseline": "middle", "align": "center"},
 "encoding": {"theta": {"field": "deg", "type": "quantitative", "stack": null}, "radius": {"value": 133}, "text": {"field": "sym"}}},
{"data": {"name": "deglabels"},
 "mark": {"type": "text", "fontSize": 6.5, "font": "Liberation Sans", "color": "#333", "baseline": "middle", "align": "center"},
 "encoding": {"theta": {"field": "deg", "type": "quantitative", "stack": null}, "radius": {"value": 127}, "text": {"field": "deg", "type": "quantitative"},
  "angle": {"field": "deg", "type": "quantitative", "scale": {"type": "linear", "domain": [0, 180, 181, 360], "range": [-90, 90, -89, 90]}, "legend": null}}},
{"data": {"name": "pct"}, "transform": [{"filter": "datum.p === 'LTNuc'"}],
 "mark": {"type": "text", "fontSize": 26, "fontWeight": "bold", "font": "Open Sans", "color": "#ff3a1c", "baseline": "middle", "align": "center"},
 "encoding": {"theta": {"value": 0}, "radius": {"value": 59}, "text": {"field": "v"}}}
]
},
{
"width": 285, "height": 290,
"view": {"fill": "white", "stroke": null},
"title": {"text": "θ Gradient", "orient": "bottom", "anchor": "start", "dx": 110, "offset": 37, "baseline": "alphabetic", "font": "Open Sans", "fontSize": 22, "fontWeight": "normal", "color": "#111"},
"encoding": {
 "x": {"datum": 0, "type": "quantitative", "scale": {"domain": [-163, 122], "nice": false, "zero": false}, "axis": null},
 "y": {"datum": 0, "type": "quantitative", "scale": {"domain": [-145, 145], "nice": false, "zero": false}, "axis": null}
},
"layer": [
{"data": {"name": "roses"}, "transform": [{"filter": "datum.p === 'Gradient'"}],
 "mark": {"type": "arc", "filled": false, "stroke": "#e2e2e2", "strokeWidth": 1, "innerRadius": 0, "outerRadius": 114, "clip": true},
 "encoding": {"theta": {"field": "s", "type": "quantitative", "stack": null, "scale": {"type": "linear", "domain": [0, 360], "range": [0, 6.283185307179586]}}, "theta2": {"field": "s"}}},
{"data": {"name": "roses"}, "transform": [{"filter": "datum.p === 'Gradient'"}],
 "mark": {"type": "arc", "fill": "#f7f36e", "stroke": "#000", "strokeWidth": 1.3, "clip": true},
 "encoding": {"theta": {"field": "s", "type": "quantitative", "stack": null}, "theta2": {"field": "e"},
  "radius": {"field": "r", "type": "quantitative", "scale": {"type": "linear", "domain": [0, 1], "range": [0, 115], "zero": true}}}},
{"data": {"name": "redlines"},
 "mark": {"type": "arc", "filled": false, "stroke": "#ff2d14", "strokeWidth": 4, "strokeJoin": "bevel", "innerRadius": 0, "outerRadius": 116, "clip": true},
 "encoding": {"theta": {"field": "deg", "type": "quantitative", "stack": null}, "theta2": {"field": "deg"}}},
{"data": {"name": "ring"},
 "mark": {"type": "arc", "fill": "#000", "innerRadius": 113.5, "outerRadius": 116.5, "clip": true},
 "encoding": {"theta": {"field": "a", "type": "quantitative", "stack": null}, "theta2": {"field": "b"}}},
{"data": {"name": "cross"},
 "mark": {"type": "arc", "filled": false, "stroke": "#000", "strokeWidth": 3, "strokeJoin": "bevel", "innerRadius": 114, "outerRadius": 131, "clip": true},
 "encoding": {"theta": {"field": "deg", "type": "quantitative", "stack": null}, "theta2": {"field": "deg"}}},
{"data": {"name": "arrow"},
 "mark": {"type": "text", "fontSize": 11, "font": "DejaVu Sans", "color": "#000", "baseline": "middle", "align": "center", "clip": true},
 "encoding": {"theta": {"field": "deg", "type": "quantitative", "stack": null}, "radius": {"value": 133}, "text": {"field": "sym"}}},
{"data": {"name": "deglabels"},
 "mark": {"type": "text", "fontSize": 6.5, "font": "Liberation Sans", "color": "#333", "baseline": "middle", "align": "center", "clip": true},
 "encoding": {"theta": {"field": "deg", "type": "quantitative", "stack": null}, "radius": {"value": 127}, "text": {"field": "deg", "type": "quantitative"},
  "angle": {"field": "deg", "type": "quantitative", "scale": {"type": "linear", "domain": [0, 180, 181, 360], "range": [-90, 90, -89, 90]}, "legend": null}}},
{"data": {"name": "pct"}, "transform": [{"filter": "datum.p === 'Gradient'"}],
 "mark": {"type": "text", "fontSize": 26, "fontWeight": "bold", "font": "Open Sans", "color": "#ff3a1c", "baseline": "middle", "align": "center", "clip": true},
 "encoding": {"theta": {"value": 0}, "radius": {"value": 59}, "text": {"field": "v"}}}
]
}
]
}
]
}
